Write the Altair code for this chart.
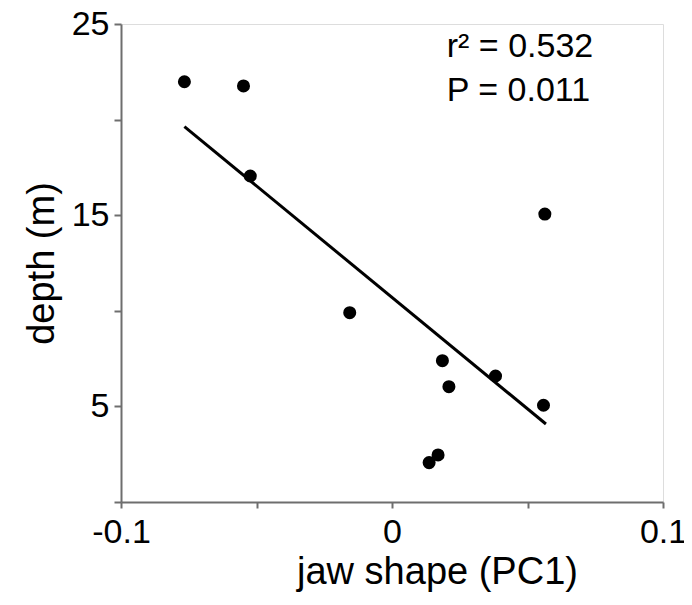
import altair as alt
import pandas as pd

# measured points
jaw_pc1 = [-0.0766, -0.0548, -0.0523, -0.0156, 0.0186, 0.0210, 0.0382, 0.0559, 0.0564, 0.0170, 0.0137]
depth_m = [21.98, 21.76, 17.05, 9.90, 7.39, 6.03, 6.59, 5.06, 15.06, 2.46, 2.06]

# fitted regression line endpoints
fit_x = [-0.0766, 0.0568]
fit_y = [19.63, 4.08]

# annotation
ann_text = ["r\u00b2 = 0.532", "P = 0.011"]
ann_x = [0.0202, 0.0202]
ann_y = [23.27, 20.97]

x_ticks = [-0.1, -0.05, 0, 0.05, 0.1]
y_ticks = [0, 5, 10, 15, 20, 25]

pts = pd.DataFrame({"x": jaw_pc1, "y": depth_m})
fit = pd.DataFrame({"x": fit_x, "y": fit_y})
ann = pd.DataFrame({"t": ann_text, "x": ann_x, "y": ann_y})

FONT = "Liberation Sans"

xscale = alt.Scale(domain=[-0.1, 0.1], nice=False, zero=False)
yscale = alt.Scale(domain=[0, 25], nice=False, zero=False)

xaxis = alt.Axis(
    title="jaw shape (PC1)", values=x_ticks, grid=False,
    labelExpr="abs(datum.value + 0.1) < 1e-9 ? '-0.1' : abs(datum.value) < 1e-9 ? '0' : abs(datum.value - 0.1) < 1e-9 ? '0.1' : ''",
    labelFont=FONT, labelFontSize=34, labelColor="#000000", labelPadding=7,
    labelFlush=False, labelOverlap=False,
    titleFont=FONT, titleFontSize=38, titleFontWeight="normal", titleColor="#000000", titlePadding=4,
    titleX=316, titleAlign="center",
    domainColor="#6e6e6e", domainWidth=2, tickColor="#6e6e6e", tickWidth=2, tickSize=6,
)
yaxis = alt.Axis(
    title="depth (m)", values=y_ticks, grid=False,
    labelExpr="datum.value % 10 == 5 ? datum.label : ''",
    labelFont=FONT, labelFontSize=34, labelColor="#000000", labelPadding=5,
    labelFlush=False, labelOverlap=False,
    titleFont=FONT, titleFontSize=38, titleFontWeight="normal", titleColor="#000000", titlePadding=10,
    domainColor="#6e6e6e", domainWidth=2, tickColor="#6e6e6e", tickWidth=2, tickSize=7,
)

points = alt.Chart(pts).mark_circle(size=170, color="#000000", opacity=1).encode(
    x=alt.X("x:Q", scale=xscale, axis=xaxis),
    y=alt.Y("y:Q", scale=yscale, axis=yaxis),
)

line = alt.Chart(fit).mark_line(color="#000000", strokeWidth=3).encode(
    x=alt.X("x:Q", scale=xscale),
    y=alt.Y("y:Q", scale=yscale),
)

text = alt.Chart(ann).mark_text(
    font=FONT, fontSize=34, align="left", baseline="alphabetic", color="#000000"
).encode(
    x=alt.X("x:Q", scale=xscale),
    y=alt.Y("y:Q", scale=yscale),
    text="t:N",
)

chart = alt.layer(line, points, text).properties(
    width=542, height=478,
    autosize=alt.AutoSizeParams(type="none"),
    padding={"left": 113, "top": 16, "right": 21, "bottom": 95},
).configure_view(stroke=None).configure(background="white")

chart.save("out.html", embed_options={"renderer": "svg", "actions": False})
